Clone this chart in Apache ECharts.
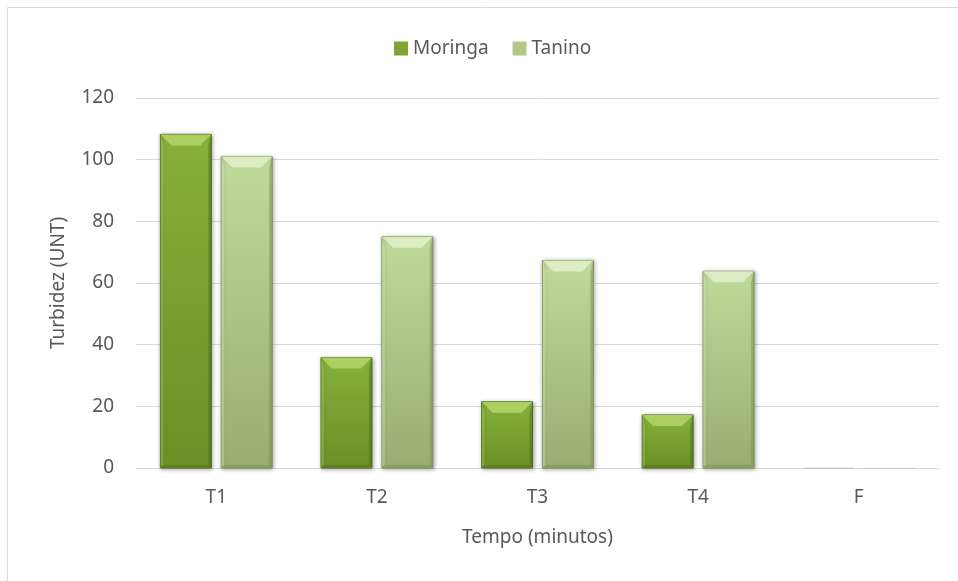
<!DOCTYPE html>
<html>
<head>
<meta charset="utf-8">
<script src="https://cdn.jsdelivr.net/npm/echarts@6/dist/echarts.min.js"></script>
<style>
  html, body { margin: 0; padding: 0; background: #fff; }
  #chart { width: 958px; height: 581px; }
</style>
</head>
<body>
<div id="chart"></div>
<script>
// dados
var categorias = ['T1', 'T2', 'T3', 'T4', 'F'];
var moringa = [108.2, 35.8, 21.5, 17.2, 0.2];
var tanino = [101, 75, 67.3, 63.8, 0.2];
var yTicks = [0, 20, 40, 60, 80, 100, 120];

var corTexto = '#595959';
var fonte = '"Noto Sans", "Open Sans", sans-serif';

// paletas do efeito bisel (topo claro, face, borda)
var palMoringa = { bevel: '#b2d467', top: '#86b13b', bottom: '#6c8f27', edge: '#4f6b1c', bot: '#5e7d22' };
var palTanino = { bevel: '#e0f0c6', top: '#c0da9a', bottom: '#98ae70', edge: '#7c9159', bot: '#869c62' };

function toPairs(arr) {
    return arr.map(function (v, i) { return [i, v]; });
}

// desenha uma coluna com bisel, posição via escalas do eixo
function bevelBar(lado, pal) {
    return function (params, api) {
        var cat = api.value(0);
        var val = api.value(1);
        var base = api.coord([cat, 0]);
        var topo = api.coord([cat, val]);
        var banda = api.size([1, 0])[0];
        var w = banda * 0.317;
        var gap = banda * 0.062;
        var cx = base[0] + lado * (w + gap) / 2;
        var x0 = cx - w / 2, x1 = cx + w / 2;
        var y0 = topo[1], y1 = base[1];
        var h = y1 - y0;
        var b = Math.min(11, h / 2);
        var s = Math.min(3, h / 2);
        var fino = h < 3;  // colunas quase nulas ficam só um traço claro
        var face = new echarts.graphic.LinearGradient(0, 0, 0, 1, [
            { offset: 0, color: pal.top },
            { offset: 1, color: pal.bottom }
        ]);
        return {
            type: 'group',
            children: [
                {
                    type: 'rect',
                    shape: { x: x0, y: y0, width: w, height: h },
                    style: {
                        fill: fino ? pal.bevel : face,
                        stroke: fino ? null : pal.edge,
                        lineWidth: 1,
                        opacity: fino ? 0.5 : 1,
                        shadowBlur: fino ? 0 : 4,
                        shadowColor: 'rgba(0,0,0,0.35)',
                        shadowOffsetX: 1,
                        shadowOffsetY: 1
                    }
                },
                {
                    type: 'polygon',
                    invisible: fino,
                    shape: { points: [[x0, y0], [x1, y0], [x1 - b, y0 + b], [x0 + b, y0 + b]] },
                    style: { fill: pal.bevel, opacity: 0.9 }
                },
                {
                    type: 'polygon',
                    invisible: fino,
                    shape: { points: [[x1, y0], [x1 - s, y0 + b], [x1 - s, y1 - s], [x1, y1]] },
                    style: { fill: pal.edge, opacity: 0.45 }
                },
                {
                    type: 'polygon',
                    invisible: fino,
                    shape: { points: [[x0, y0], [x0 + s, y0 + b], [x0 + s, y1 - s], [x0, y1]] },
                    style: { fill: pal.bevel, opacity: 0.35 }
                },
                {
                    type: 'polygon',
                    invisible: fino,
                    shape: { points: [[x0, y1], [x0 + s, y1 - s], [x1 - s, y1 - s], [x1, y1]] },
                    style: { fill: pal.bot, opacity: 0.8 }
                }
            ]
        };
    };
}

var chart = echarts.init(document.getElementById('chart'));

var option = {
    backgroundColor: '#fff',
    animation: false,
    textStyle: { fontFamily: fonte },
    graphic: [{
        type: 'rect',
        shape: { x: 7.5, y: 7.5, width: 1000, height: 1000 },
        style: { fill: 'none', stroke: '#d9d9d9', lineWidth: 1 },
        silent: true
    }],
    legend: {
        top: 34,
        left: 389,
        itemWidth: 14,
        itemHeight: 14,
        itemGap: 24,
        icon: 'rect',
        textStyle: { color: corTexto, fontSize: 19, fontFamily: fonte },
        data: ['Moringa', 'Tanino']
    },
    grid: { left: 136, right: 19, top: 98, bottom: 113, containLabel: false },
    xAxis: {
        type: 'category',
        data: categorias,
        name: 'Tempo (minutos)',
        nameLocation: 'middle',
        nameGap: 60,
        nameTextStyle: { color: corTexto, fontSize: 19 },
        axisLine: { lineStyle: { color: '#d9d9d9', width: 1 } },
        axisTick: { show: false },
        axisLabel: { color: corTexto, fontSize: 19, margin: 20 }
    },
    yAxis: {
        type: 'value',
        min: yTicks[0],
        max: yTicks[yTicks.length - 1],
        interval: yTicks[1] - yTicks[0],
        name: 'Turbidez (UNT)',
        nameLocation: 'middle',
        nameGap: 68,
        nameTextStyle: { color: corTexto, fontSize: 19 },
        axisLine: { show: false },
        axisTick: { show: false },
        axisLabel: { color: corTexto, fontSize: 19, margin: 22 },
        splitLine: { lineStyle: { color: '#d9d9d9', width: 1 } }
    },
    series: [
        {
            name: 'Moringa',
            type: 'custom',
            renderItem: bevelBar(-1, palMoringa),
            encode: { x: 0, y: 1 },
            itemStyle: { color: '#7ea534' },
            data: toPairs(moringa)
        },
        {
            name: 'Tanino',
            type: 'custom',
            renderItem: bevelBar(1, palTanino),
            encode: { x: 0, y: 1 },
            itemStyle: { color: '#b0c98a' },
            data: toPairs(tanino)
        }
    ]
};

chart.setOption(option);
</script>
</body>
</html>
